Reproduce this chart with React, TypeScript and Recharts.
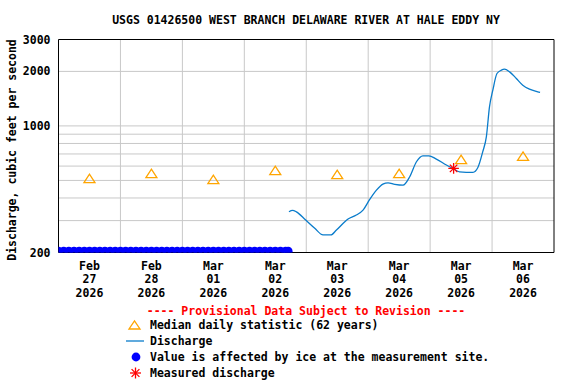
import React from "react";
import {
  ComposedChart,
  Line,
  Scatter,
  XAxis,
  YAxis,
  ReferenceLine,
} from "recharts";

// hours since Feb 27 2026 00:00
const tickHours = [12, 36, 60, 84, 108, 132, 156, 180];
const tickMonths = ["Feb", "Feb", "Mar", "Mar", "Mar", "Mar", "Mar", "Mar"];
const tickDays = ["27", "28", "01", "02", "03", "04", "05", "06"];
const tickYears = ["2026", "2026", "2026", "2026", "2026", "2026", "2026", "2026"];
const dayBoundaries = [24, 48, 72, 96, 120, 144, 168];

const yTicks = [200, 1000, 2000, 3000];
const yGrid = [300, 400, 500, 600, 700, 800, 900, 1000, 2000];

const medianValues = [513, 547, 507, 568, 540, 547, 653, 681];

const flowHours = [
  89.3, 90.7, 92.2, 95.8, 99.3, 102.5, 105.5, 107.7, 112.2, 115.4, 118.0, 120.6,
  123.2, 125.7, 127.7, 130.3, 133.5, 136.1, 138.7, 141.2, 143.5, 146.4, 150.3,
  152.8, 155.4, 160.6, 162.5, 164.4, 165.8, 167.0, 168.3, 169.9, 171.6, 172.8,
  174.8, 177.4, 179.9, 182.5, 185.7, 186.6,
];
const flowValues = [
  336, 342, 335, 302, 272, 250, 250, 266, 306, 322, 343, 393, 442, 477, 485, 476,
  471, 524, 634, 684, 684, 656, 608, 583, 558, 554, 589, 721, 873, 1274, 1575,
  1947, 2031, 2056, 1988, 1828, 1678, 1595, 1542, 1530,
];

const iceHours = [
  0, 2, 4, 6, 8, 10, 12, 14, 16, 18, 20, 22, 24, 26, 28, 30, 32, 34, 36, 38, 40,
  42, 44, 46, 48, 50, 52, 54, 56, 58, 60, 62, 64, 66, 68, 70, 72, 74, 76, 78, 80,
  82, 84, 86, 88, 89,
];
const iceValue = 200;

const measuredHours = [153.1];
const measuredValues = [583];

const medianData = tickHours.map((h, i) => ({ h, v: medianValues[i] }));
const flowData = flowHours.map((h, i) => ({ h, v: flowValues[i] }));
const iceData = iceHours.map((h) => ({ h, v: iceValue }));
const measuredData = measuredHours.map((h, i) => ({ h, v: measuredValues[i] }));

const FONT = "'DejaVu Sans Mono', monospace";
const FS = 11.5;
const ORANGE = "#FFA500";
const LINE_BLUE = "#0A7CCB";
const ICE_BLUE = "#0000FF";
const GRID = "#C8C8C8";

const Triangle = (props: any) => {
  const { cx, cy } = props;
  if (cx == null || cy == null) return null;
  return (
    <polygon
      points={`${cx - 5.5},${cy + 4.2} ${cx + 5.5},${cy + 4.2} ${cx},${cy - 4.2}`}
      fill="none"
      stroke={ORANGE}
      strokeWidth={1.3}
    />
  );
};

const IceDot = (props: any) => {
  const { cx, cy } = props;
  if (cx == null || cy == null) return null;
  return <circle cx={cx} cy={cy - 1.3} r={4.4} fill={ICE_BLUE} />;
};

const Star = (props: any) => {
  const { cx, cy } = props;
  if (cx == null || cy == null) return null;
  const r = 5.3;
  const d = r * 0.7071;
  return (
    <g stroke="#FF0000" strokeWidth={1.3}>
      <line x1={cx - r} y1={cy} x2={cx + r} y2={cy} />
      <line x1={cx} y1={cy - r} x2={cx} y2={cy + r} />
      <line x1={cx - d} y1={cy - d} x2={cx + d} y2={cy + d} />
      <line x1={cx - d} y1={cy + d} x2={cx + d} y2={cy - d} />
    </g>
  );
};

const XTick = (props: any) => {
  const { x, y, payload } = props;
  const i = tickHours.indexOf(payload.value);
  if (i < 0) return null;
  return (
    <text
      x={x}
      y={y}
      textAnchor="middle"
      fontFamily={FONT}
      fontWeight="bold"
      fontSize={FS}
      fill="#000"
    >
      <tspan x={x} dy={17.5}>{tickMonths[i]}</tspan>
      <tspan x={x} dy={13.3}>{tickDays[i]}</tspan>
      <tspan x={x} dy={13.3}>{tickYears[i]}</tspan>
    </text>
  );
};

const legendText = {
  fontFamily: FONT,
  fontWeight: "bold" as const,
  fontSize: FS,
  fill: "#000",
};

export default function App() {
  return (
    <div style={{ position: "absolute", left: 0, top: 0, width: 576, height: 384, background: "#fff" }}>
      <ComposedChart
        width={576}
        height={384}
        margin={{ top: 39.5, right: 22, bottom: 91.5, left: 0 }}
      >
        <XAxis
          type="number"
          dataKey="h"
          domain={[0, 192]}
          ticks={tickHours}
          tick={<XTick />}
          tickLine={false}
          tickSize={0}
          tickMargin={0}
          height={40}
          allowDataOverflow
          axisLine={{ stroke: "#000", strokeWidth: 1 }}
          interval={0}
        />
        <YAxis
          type="number"
          dataKey="v"
          scale="log"
          domain={[200, 3000]}
          ticks={yTicks}
          allowDataOverflow
          width={58.5}
          tickLine={false}
          tickSize={0}
          tickMargin={8}
          interval={0}
          axisLine={{ stroke: "#000", strokeWidth: 1 }}
          tick={{ fontFamily: FONT, fontWeight: "bold", fontSize: FS, fill: "#000" }}
        />
        {yGrid.map((v) => (
          <ReferenceLine key={"y" + v} y={v} stroke={GRID} strokeWidth={1} />
        ))}
        {dayBoundaries.map((h) => (
          <ReferenceLine key={"x" + h} x={h} stroke={GRID} strokeWidth={1} />
        ))}
        <ReferenceLine y={3000} stroke="#000" strokeWidth={1} />
        <ReferenceLine x={192} stroke="#000" strokeWidth={1} />
        <Scatter
          data={iceData}
          dataKey="v"
          shape={<IceDot />}
          isAnimationActive={false}
        />
        <Line
          data={flowData}
          dataKey="v"
          type="monotone"
          stroke={LINE_BLUE}
          strokeWidth={1.3}
          dot={false}
          activeDot={false}
          isAnimationActive={false}
        />
        <Scatter
          data={medianData}
          dataKey="v"
          shape={<Triangle />}
          isAnimationActive={false}
        />
        <Scatter
          data={measuredData}
          dataKey="v"
          shape={<Star />}
          isAnimationActive={false}
        />
      </ComposedChart>
      <svg
        width={576}
        height={384}
        style={{ position: "absolute", left: 0, top: 0, pointerEvents: "none" }}
      >
        <text x={306} y={24} textAnchor="middle" {...legendText}>
          USGS 01426500 WEST BRANCH DELAWARE RIVER AT HALE EDDY NY
        </text>
        <text
          x={0}
          y={0}
          transform="translate(16,150) rotate(-90)"
          textAnchor="middle"
          {...legendText}
        >
          Discharge, cubic feet per second
        </text>
        <text x={306} y={315} textAnchor="middle" {...legendText} fill="#FF0000">
          ---- Provisional Data Subject to Revision ----
        </text>
        <polygon
          points="129,329 140,329 134.5,321"
          fill="none"
          stroke={ORANGE}
          strokeWidth={1.3}
        />
        <text x={150} y={329} {...legendText}>Median daily statistic (62 years)</text>
        <line x1={126} y1={341} x2={144} y2={341} stroke={LINE_BLUE} strokeWidth={1.3} />
        <text x={150} y={345} {...legendText}>Discharge</text>
        <circle cx={136} cy={357} r={4.4} fill={ICE_BLUE} />
        <text x={150} y={361} {...legendText}>Value is affected by ice at the measurement site.</text>
        <g stroke="#FF0000" strokeWidth={1.3}>
          <line x1={130} y1={373} x2={141} y2={373} />
          <line x1={135.5} y1={367.5} x2={135.5} y2={378.5} />
          <line x1={131.6} y1={369.1} x2={139.4} y2={376.9} />
          <line x1={131.6} y1={376.9} x2={139.4} y2={369.1} />
        </g>
        <text x={150} y={377} {...legendText}>Measured discharge</text>
      </svg>
    </div>
  );
}
